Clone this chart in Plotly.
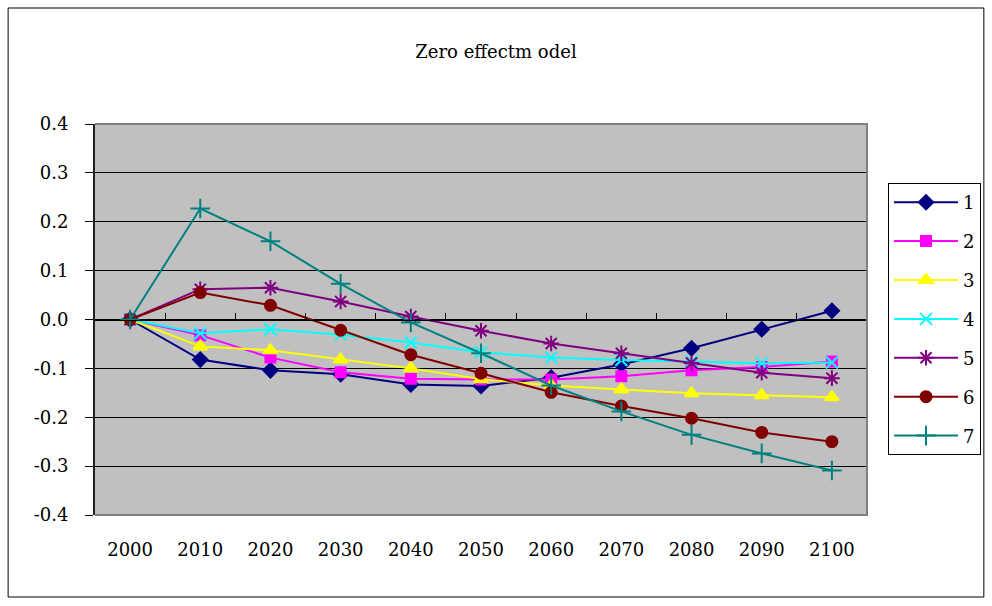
import plotly.graph_objects as go

years = ["2000", "2010", "2020", "2030", "2040", "2050", "2060", "2070", "2080", "2090", "2100"]

s1 = [0.0, -0.082, -0.104, -0.112, -0.133, -0.136, -0.119, -0.092, -0.059, -0.020, 0.018]
s2 = [0.0, -0.032, -0.078, -0.108, -0.121, -0.123, -0.123, -0.116, -0.104, -0.097, -0.086]
s3 = [0.0, -0.055, -0.063, -0.082, -0.100, -0.122, -0.135, -0.143, -0.151, -0.155, -0.159]
s4 = [0.0, -0.028, -0.020, -0.031, -0.047, -0.067, -0.078, -0.083, -0.086, -0.090, -0.088]
s5 = [0.0, 0.062, 0.065, 0.037, 0.006, -0.023, -0.049, -0.069, -0.089, -0.109, -0.120]
s6 = [0.0, 0.055, 0.029, -0.022, -0.072, -0.110, -0.149, -0.177, -0.202, -0.231, -0.250]
s7 = [0.0, 0.227, 0.160, 0.073, -0.006, -0.069, -0.135, -0.188, -0.236, -0.274, -0.309]

series_names = ["1", "2", "3", "4", "5", "6", "7"]
series_values = [s1, s2, s3, s4, s5, s6, s7]

y_tickvals = [0.4, 0.3, 0.2, 0.1, 0.0, -0.1, -0.2, -0.3, -0.4]
y_ticktext = ["0.4", "0.3", "0.2", "0.1", "0.0", "-0.1", "-0.2", "-0.3", "-0.4"]

title_text = "Zero effectm odel"

colors = ["#000080", "#FF00FF", "#FFFF00", "#00FFFF", "#800080", "#800000", "#008080"]
symbols = ["diamond", "square", "triangle-up", "x-thin-open", "asterisk-open", "circle", "cross-thin-open"]
sizes = [11, 10, 12, 12, 13, 11, 14]

FONT = "DejaVu Serif"

fig = go.Figure()
for i, (name, vals) in enumerate(zip(series_names, series_values)):
    fig.add_trace(go.Scatter(
        x=years, y=vals, name=name, mode="lines+markers",
        legendgroup=name,
        line=dict(color=colors[i], width=2),
        marker=dict(symbol=symbols[i], size=sizes[i], color=colors[i],
                    line=dict(color=colors[i], width=2)),
    ))

W, H = 992, 606
L, R, T, B = 95, 124, 124, 91
pw, ph = W - L - R, H - T - B

def px_x(x):
    return (x - L) / pw

def px_y(y):
    return (H - B - y) / ph

n = len(years)
fig.update_layout(
    width=W, height=H,
    margin=dict(l=L, r=R, t=T, b=B),
    paper_bgcolor="white",
    plot_bgcolor="#C0C0C0",
    font=dict(family=FONT, size=18, color="black"),
    title=dict(text=title_text, x=0.5, xref="container", xanchor="center",
               y=1 - 52 / H, yref="container", yanchor="middle",
               font=dict(family=FONT, size=18, color="black")),
    showlegend=True,
    legend=dict(x=px_x(888), y=px_y(183), xanchor="left", yanchor="top",
                bordercolor="black", borderwidth=1, bgcolor="white",
                tracegroupgap=12.5, itemwidth=64,
                font=dict(family=FONT, size=18, color="black")),
    xaxis=dict(type="category", categoryorder="array", categoryarray=years,
               range=[-0.5, n - 0.5], showgrid=False, zeroline=False,
               showline=False, ticks="", ticklabelstandoff=22,
               tickfont=dict(family=FONT, size=18, color="black")),
    xaxis2=dict(overlaying="x", anchor="free", position=0.5, side="top",
                range=[-0.5, n - 0.5], showgrid=False, zeroline=False,
                showline=True, linecolor="black", linewidth=1,
                tickvals=[i + 0.5 for i in range(n - 1)],
                ticks="outside", ticklen=7, tickcolor="black", tickwidth=1,
                showticklabels=False),
    yaxis=dict(range=[-0.4, 0.4], tickvals=y_tickvals, ticktext=y_ticktext,
               showgrid=True, gridcolor="black", gridwidth=1,
               zeroline=False, showline=True, linecolor="#202020", linewidth=2,
               ticks="outside", ticklen=8, tickcolor="black", tickwidth=1,
               ticklabelstandoff=13,
               tickfont=dict(family=FONT, size=18, color="black")),
    shapes=[
        dict(type="path", xref="paper", yref="paper",
             path="M 0,0 L 1,0 L 1,1 L 0,1", line=dict(color="#808080", width=2),
             layer="above"),
        dict(type="rect", xref="paper", yref="paper",
             x0=px_x(8), x1=px_x(985), y0=px_y(597), y1=px_y(8),
             line=dict(color="black", width=1), layer="below"),
    ],
)

# invisible trace to activate xaxis2 (zero-crossing category axis)
fig.add_trace(go.Scatter(x=[0], y=[0], xaxis="x2", mode="markers",
                         marker=dict(opacity=0), showlegend=False, hoverinfo="skip"))

fig.write_html("out.html", config={"displayModeBar": False},
               post_script="document.body.style.margin='0px';document.body.style.padding='0px';")
